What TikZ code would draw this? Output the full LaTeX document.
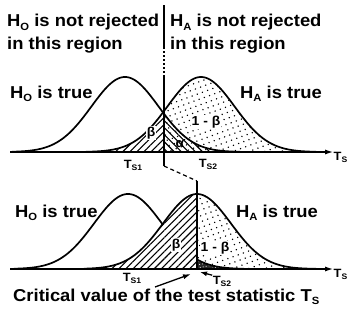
\documentclass[tikz,border=0pt]{standalone}
\usepackage{fontspec}
\setmainfont[FakeStretch=1.07]{Liberation Sans}
\usetikzlibrary{patterns.meta,arrows.meta}
\newcommand\mysub[1]{\raisebox{-0.35ex}{\fontsize{10.5}{10}\selectfont #1}}
\newcommand\tsub[1]{\raisebox{-0.3ex}{\fontsize{8}{8}\selectfont #1}}
\begin{document}
\begin{tikzpicture}[x=1pt,y=-1pt,
  declare function={gs(\t)=exp(-0.5*(\t)*(\t));},
  big/.style={font=\fontsize{17.2}{20}\selectfont\bfseries, inner sep=0pt, anchor=base west},
  small/.style={font=\fontsize{12}{14}\selectfont\bfseries, inner sep=0.5pt},
  greek/.style={font=\fontsize{13}{15}\selectfont\bfseries, inner sep=0.5pt, fill=white},
  curve/.style={line width=1.7pt},
  axis/.style={line width=2.2pt, -{Latex[length=9pt,width=5pt]}},
  vline/.style={line width=1.4pt},
  hatchA/.style={pattern={Lines[angle=45,distance=5pt,line width=1.1pt]}},
  hatchB/.style={pattern={Lines[angle=-45,distance=5pt,line width=1.1pt]}},
  dotsp/.style={pattern={Dots[angle=20,distance=5.5pt,radius=0.8pt]}}
]
\useasboundingbox (0,0) rectangle (349,324);
% ---------- top plot ----------
\def\yb{152}
\fill[dotsp] plot[domain=163:312,samples=60] (\x,{\yb-75*gs((\x-201)/33.6)}) -- (312,\yb) -- (163,\yb) -- cycle;
\fill[hatchA] plot[domain=88:163,samples=60] (\x,{\yb-75*gs((\x-201)/33.6)}) -- (163,\yb) -- (88,\yb) -- cycle;
\fill[hatchB] plot[domain=163:238,samples=60] (\x,{\yb-75*gs((\x-125)/33.6)}) -- (238,\yb) -- (163,\yb) -- cycle;
\draw[curve] plot[domain=12:240,samples=120] (\x,{\yb-75*gs((\x-125)/33.6)});
\draw[curve] plot[domain=86:316,samples=120] (\x,{\yb-75*gs((\x-201)/33.6)});
\coordinate (ax1s) at (10,\yb);
\coordinate (ax1e) at (334,\yb);
\draw[axis] (ax1s) -- (ax1e);
\node[small, anchor=west] (ts1) at (333,157) {T\tsub{S}};
\node[greek] (b1) at (151,133) {β};
\node[greek, fill=none] (a1) at (180,144) {α};
\node[greek] (ob1) at (206,122) {1 - β};
\node[small] (s11) at (133,165) {T\tsub{S1}};
\node[small] (s12) at (208,164) {T\tsub{S2}};
% ---------- bottom plot ----------
\def\yc{269}
\fill[dotsp] plot[domain=197:312,samples=60] (\x,{\yc-75*gs((\x-197)/34)}) -- (312,\yc) -- (197,\yc) -- cycle;
\fill[hatchA] plot[domain=88:197,samples=60] (\x,{\yc-75*gs((\x-197)/34)}) -- (197,\yc) -- (88,\yc) -- cycle;
\fill[black!85] plot[domain=197:242,samples=40] (\x,{\yc-75*gs((\x-128)/34)}) -- (242,\yc) -- (197,\yc) -- cycle;
\fill[pattern={Dots[angle=10,distance=3pt,radius=0.55pt]},pattern color=white] plot[domain=197:242,samples=40] (\x,{\yc-75*gs((\x-128)/34)}) -- (242,\yc) -- (197,\yc) -- cycle;
\draw[curve] plot[domain=14:162.5,samples=100] (\x,{\yc-75*gs((\x-128)/34)});
\draw[curve] plot[domain=197:244,samples=40] (\x,{\yc-75*gs((\x-128)/34)});
\draw[curve] plot[domain=84:316,samples=120] (\x,{\yc-75*gs((\x-197)/34)});
\coordinate (ax2s) at (10,\yc);
\coordinate (ax2e) at (334,\yc);
\draw[axis] (ax2s) -- (ax2e);
\node[small, anchor=west] (ts2) at (333,274) {T\tsub{S}};
\node[greek] (b2) at (176,245) {β};
\node[greek] (ob2) at (215,248) {1 - β};
\node[small] (s21) at (132,278) {T\tsub{S1}};
\node[small] (s22) at (222,281) {T\tsub{S2}};
% ---------- critical value lines ----------
\coordinate (v0) at (164,5);
\coordinate (v1) at (164,47);
\coordinate (v2) at (164,75);
\coordinate (v3) at (164,166);
\coordinate (w0) at (197,181);
\coordinate (w1) at (197,\yc);
\draw[vline] (v0) -- (v1);
\draw[vline, dash pattern=on 2pt off 2pt] (v1) -- (v2);
\draw[vline] (v2) -- (v3);
\draw[line width=1.2pt, dash pattern=on 4pt off 3pt] (v3) -- (w0);
\draw[vline] (w0) -- (w1);
% ---------- texts ----------
\node[big] (h0nr) at (7,27) {H\mysub{O} is not rejected};
\node[big] (h0nr2) at (7,49) {in this region};
\node[big] (hanr) at (170,27) {H\mysub{A} is not rejected};
\node[big] (hanr2) at (170,49) {in this region};
\node[big] (h0t1) at (10,98) {H\mysub{O} is true};
\node[big] (hat1) at (240,98) {H\mysub{A} is true};
\node[big] (h0t2) at (15,217) {H\mysub{O} is true};
\node[big] (hat2) at (236,217) {H\mysub{A} is true};
\node[big] (crit) at (13,301) {Critical value of the test statistic T\mysub{S}};
\draw[line width=1.3pt, -{Latex[length=8pt,width=5pt]}] (155,287) -- (191,274);
\draw[line width=1.3pt, -{Latex[length=7pt,width=5pt]}] (s22.north west) -- (200,272);
\end{tikzpicture}
\end{document}
